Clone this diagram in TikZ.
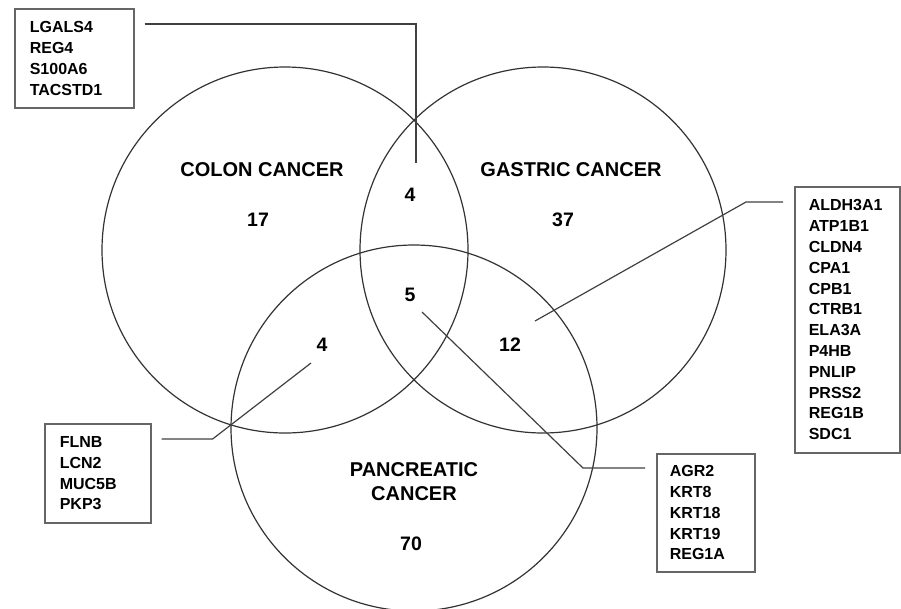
\documentclass[tikz,border=0pt]{standalone}
\usepackage{fontspec}
\setmainfont{Liberation Sans}
\usetikzlibrary{positioning}

\begin{document}
\begin{tikzpicture}[x=1pt,y=-1pt,
  ring/.style={draw=black!80,line width=1.2pt},
  title/.style={font=\fontsize{20}{24}\selectfont\bfseries,align=center,inner sep=0pt},
  count/.style={font=\fontsize{19.5}{22}\selectfont\bfseries,inner sep=0pt},
  genes/.style={draw=black!60,line width=1.6pt,anchor=north west,align=left,inner ysep=0pt,
    font=\fontsize{16}{20.8}\selectfont\bfseries},
  lead/.style={black!75,line width=1.2pt}]
  \useasboundingbox (0,0) rectangle (901,608);
  % the three sets
  \draw[ring] (285,250) circle[radius=183];
  \draw[ring] (543,250) circle[radius=183];
  \draw[ring] (414,428) circle[radius=183];
  \node[title] (colon) at (262,170) {COLON CANCER};
  \node[title] (gastric) at (571,170) {GASTRIC CANCER};
  \node[title] (panc) at (414,482) {PANCREATIC\\CANCER};
  \node[count] (n17) at (258,220) {17};
  \node[count] (n37) at (563,220) {37};
  \node[count] (n70) at (411,544) {70};
  \node[count] (ncg) at (410,195) {4};
  \node[count] (nall) at (410,295) {5};
  \node[count] (ncp) at (322,345) {4};
  \node[count] (ngp) at (510,345) {12};
  % gene lists
  \node[genes,inner xsep=15pt,text width=89pt,minimum height=99pt] (lg) at (14,8)
    {LGALS4\\REG4\\S100A6\\TACSTD1};
  \node[genes,inner xsep=14pt,text width=77pt,minimum height=266pt] (al) at (794,186)
    {ALDH3A1\\ATP1B1\\CLDN4\\CPA1\\CPB1\\CTRB1\\ELA3A\\P4HB\\PNLIP\\PRSS2\\REG1B\\SDC1};
  \node[genes,inner xsep=15pt,text width=76pt,minimum height=99pt] (fl) at (44,423)
    {FLNB\\LCN2\\MUC5B\\PKP3};
  \node[genes,inner xsep=13pt,text width=72pt,minimum height=118pt] (ag) at (656,453)
    {AGR2\\KRT8\\KRT18\\KRT19\\REG1A};
  % leader lines
  \coordinate (k1) at (416,163);
  \coordinate (k2) at (535,321);
  \coordinate (k3) at (311,363);
  \coordinate (k4) at (422,312);
  \draw[lead] ([shift={(10,16)}]lg.north east) -| (k1);
  \draw[lead] ([shift={(-11,16)}]al.north west) -- ++(-37,0) -- (k2);
  \draw[lead] ([shift={(10,16)}]fl.north east) -- ++(51,0) -- (k3);
  \draw[lead] ([shift={(-11,15)}]ag.north west) -- ++(-62,0) -- (k4);
\end{tikzpicture}
\end{document}
